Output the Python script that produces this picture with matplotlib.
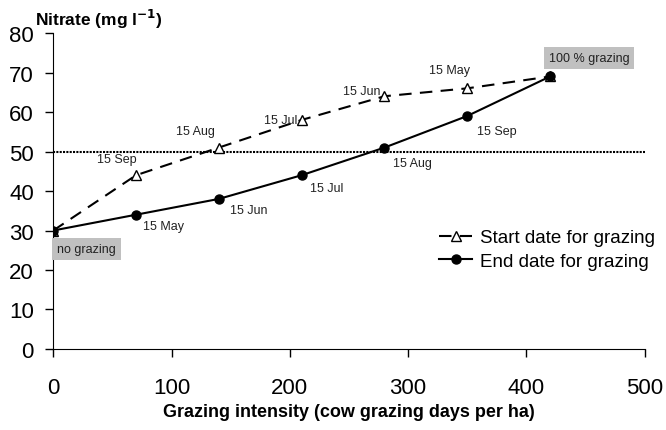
import matplotlib.pyplot as plt

plt.rcParams['font.family'] = ['Liberation Sans', 'DejaVu Sans']

intensity = [0, 70, 140, 210, 280, 350, 420]
start_nitrate = [30, 44, 51, 58, 64, 66, 69]
end_nitrate = [30, 34, 38, 44, 51, 59, 69]
start_labels = ['', '15 Sep', '15 Aug', '15 Jul', '15 Jun', '15 May', '']
end_labels = ['', '15 May', '15 Jun', '15 Jul', '15 Aug', '15 Sep', '']
limit = 50

fig = plt.figure(figsize=(6.66, 4.31), dpi=100)
ax = fig.add_axes([0.08, 0.188, 0.888, 0.733])

ax.axhline(limit, color='black', linestyle=(0, (1, 0.6)), linewidth=1.5, zorder=1)
ax.plot(intensity, start_nitrate, color='black', linestyle=(0, (6, 4)), linewidth=1.5,
        marker='^', markersize=6.5, markerfacecolor='white', markeredgecolor='black',
        label='Start date for grazing', zorder=3)
ax.plot(intensity, end_nitrate, color='black', linewidth=1.5,
        marker='o', markersize=6.5, label='End date for grazing', zorder=4)

# date labels (offsets in points)
start_offsets = [None, (-14, 12), (-17, 12), (-15, 0), (-16.5, 4), (-13, 13), None]
end_offsets = [None, (20, -8), (21.5, -8), (18, -9), (20, -11), (21, -11), None]
for x, y, lab, off in zip(intensity, start_nitrate, start_labels, start_offsets):
    if lab:
        ax.annotate(lab, (x, y), xytext=off, textcoords='offset points',
                    ha='center', va='center', fontsize=9, color='#222222')
for x, y, lab, off in zip(intensity, end_nitrate, end_labels, end_offsets):
    if lab:
        ax.annotate(lab, (x, y), xytext=off, textcoords='offset points',
                    ha='center', va='center', fontsize=9, color='#222222')

box = dict(boxstyle='square,pad=0.4', facecolor='#c0c0c0', edgecolor='none')
ax.annotate('no grazing', (0, 30), xytext=(3, -13), textcoords='offset points',
            ha='left', va='center', fontsize=9, color='#222222', bbox=box)
ax.annotate('100 % grazing', (420, 69), xytext=(-1, 13), textcoords='offset points',
            ha='left', va='center', fontsize=9, color='#222222', bbox=box)

ax.set_xlim(0, 500)
ax.set_ylim(0, 80)
ax.set_xticks(range(0, 501, 100))
ax.set_yticks(range(0, 81, 10))
ax.tick_params(labelsize=16, length=6, width=1)
ax.tick_params(axis='x', pad=14)
ax.tick_params(axis='y', pad=8)
for s in ['top', 'right']:
    ax.spines[s].set_visible(False)

ax.set_xlabel('Grazing intensity (cow grazing days per ha)', fontsize=13, fontweight='bold', labelpad=4)
fig.text(0.053, 0.955, 'Nitrate (mg l$^{\\mathbf{-1}}$)', fontsize=12.5, fontweight='bold',
         ha='left', va='center')

ax.legend(loc='center right', bbox_to_anchor=(1.03, 0.315), frameon=False, fontsize=13.5,
          handlelength=1.8, handletextpad=0.4, labelspacing=0.35, borderaxespad=0)

fig.savefig('out.png', dpi=100)
